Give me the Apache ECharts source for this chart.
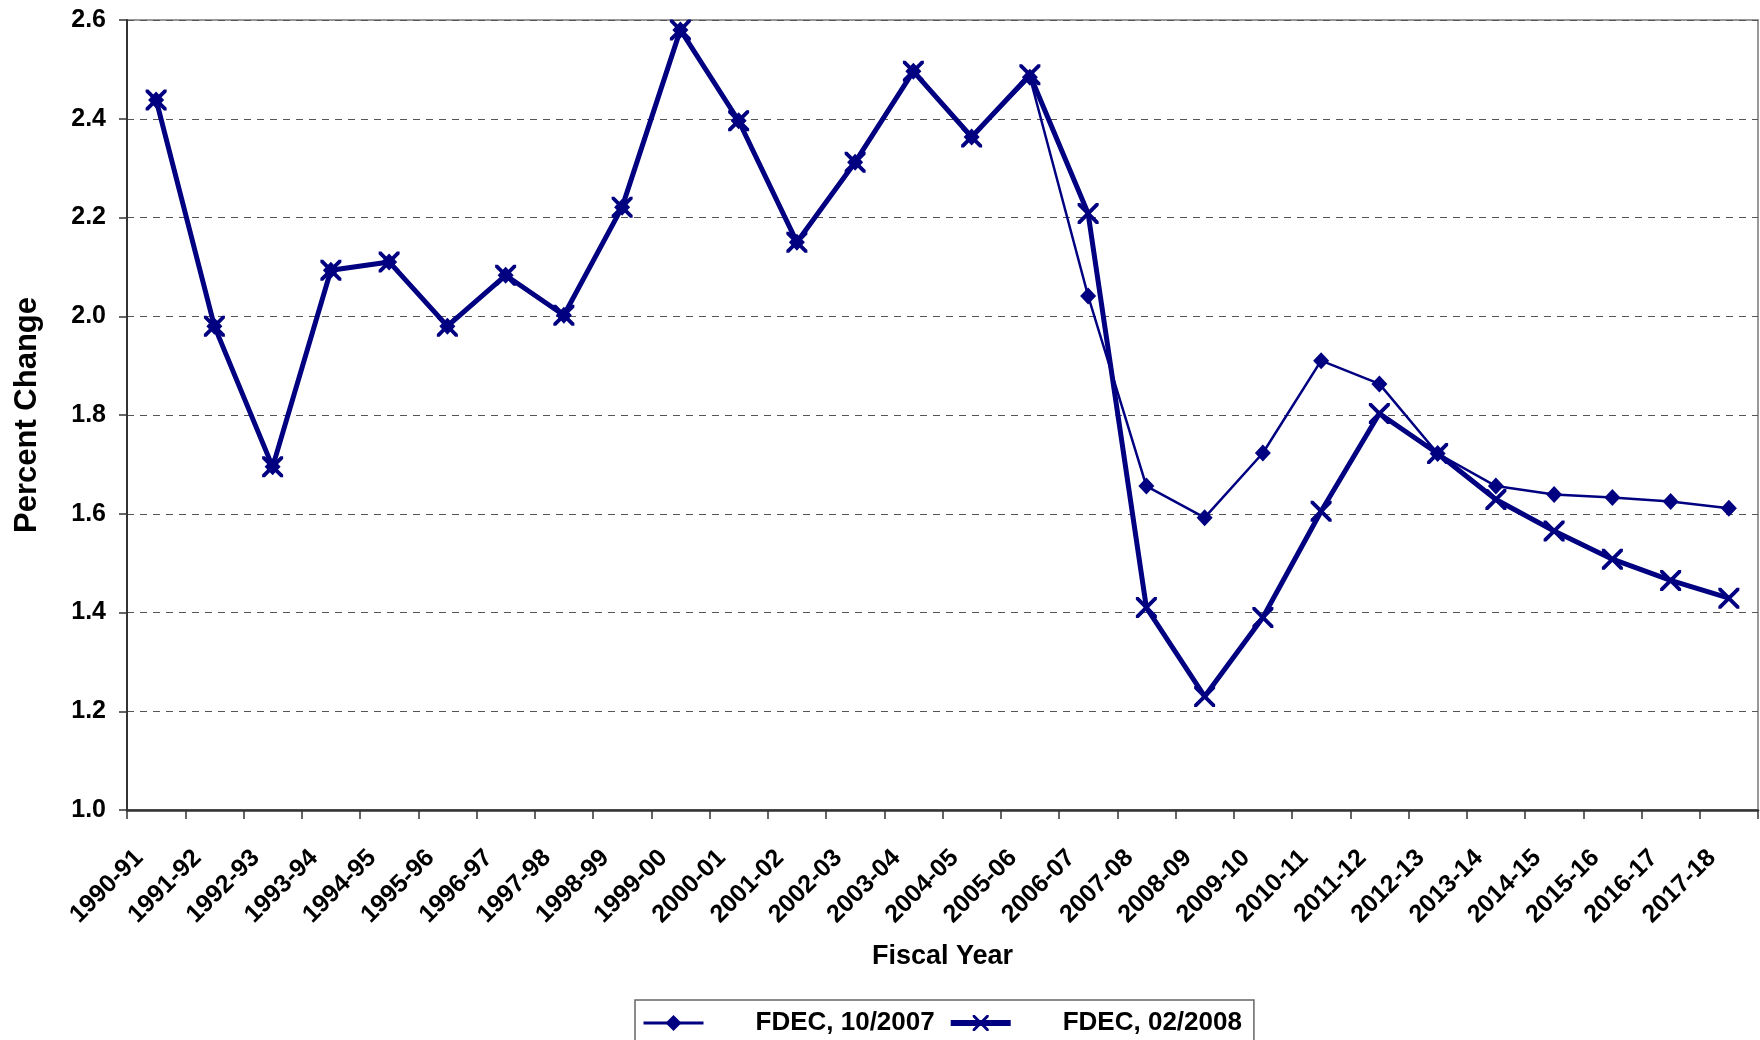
<!DOCTYPE html>
<html>
<head>
<meta charset="utf-8">
<script src="https://cdn.jsdelivr.net/npm/echarts@6/dist/echarts.min.js"></script>
<style>
  html, body { margin: 0; padding: 0; background: #fff; }
  #chart { width: 1760px; height: 1040px; }
</style>
</head>
<body>
<div id="chart"></div>
<script>
const categories = ['1990-91','1991-92','1992-93','1993-94','1994-95','1995-96','1996-97','1997-98','1998-99','1999-00',
  '2000-01','2001-02','2002-03','2003-04','2004-05','2005-06','2006-07','2007-08','2008-09','2009-10',
  '2010-11','2011-12','2012-13','2013-14','2014-15','2015-16','2016-17','2017-18'];
const fdec1007 = [2.438, 1.980, 1.695, 2.093, 2.110, 1.980, 2.083, 2.002, 2.221, 2.580,
  2.396, 2.150, 2.312, 2.496, 2.363, 2.484, 2.041, 1.656, 1.592, 1.723,
  1.910, 1.863, 1.722, 1.656, 1.639, 1.633, 1.625, 1.611];
const fdec0208 = [2.438, 1.980, 1.695, 2.093, 2.110, 1.980, 2.083, 2.002, 2.221, 2.580,
  2.396, 2.150, 2.312, 2.496, 2.363, 2.489, 2.208, 1.410, 1.230, 1.390,
  1.605, 1.803, 1.722, 1.629, 1.565, 1.508, 1.465, 1.429];
const seriesNames = ['FDEC, 10/2007', 'FDEC, 02/2008'];
const yMin = 1.0, yMax = 2.6, yStep = 0.2;

const NAVY = '#000080';
const FONT = "'Liberation Sans', Arial, sans-serif";
const xPath = 'path://M0,0 L2.6,0 L10,7.4 L17.4,0 L20,0 L20,2.6 L12.6,10 L20,17.4 L20,20 L17.4,20 L10,12.6 L2.6,20 L0,20 L0,17.4 L7.4,10 L0,2.6 Z';

const chart = echarts.init(document.getElementById('chart'), null, { renderer: 'canvas' });
chart.setOption({
  animation: false,
  backgroundColor: '#fff',
  textStyle: { fontFamily: FONT },
  grid: {
    left: 127, right: 2, top: 20, bottom: 230,
    show: true, borderColor: '#999', borderWidth: 2, backgroundColor: 'transparent'
  },
  legend: {
    left: 635, top: 1000,
    orient: 'horizontal',
    itemWidth: 60, itemHeight: 20, itemGap: 13,
    padding: [10, 12, 12, 7],
    borderColor: '#666', borderWidth: 1.5,
    textStyle: {
      fontFamily: FONT, fontWeight: 'bold', fontSize: 26, color: '#000',
      rich: { t: { fontFamily: FONT, fontWeight: 'bold', fontSize: 26, color: '#000', padding: [0, 0, 0, 47] } }
    },
    formatter: function (n) { return '{t|' + n + '}'; },
    data: [
      { name: seriesNames[0], lineStyle: { width: 3, color: NAVY } },
      { name: seriesNames[1], lineStyle: { width: 6, color: NAVY } }
    ]
  },
  xAxis: {
    type: 'category',
    data: categories,
    boundaryGap: true,
    name: 'Fiscal Year',
    nameLocation: 'middle',
    nameGap: 133,
    nameTextStyle: { fontFamily: FONT, fontWeight: 'bold', fontSize: 27, color: '#000' },
    axisLine: { show: true, lineStyle: { color: '#333', width: 2.5 } },
    axisTick: { show: true, inside: false, length: 9, lineStyle: { color: '#333', width: 1.5 } },
    axisLabel: {
      interval: 0, rotate: 45, margin: 27,
      padding: [0, 24, 0, 0],
      fontFamily: FONT, fontWeight: 'bold', fontSize: 25, color: '#000'
    },
    splitLine: { show: false }
  },
  yAxis: {
    type: 'value',
    min: yMin, max: yMax, interval: yStep,
    name: 'Percent Change',
    nameLocation: 'middle',
    nameGap: 84,
    nameRotate: 90,
    nameTextStyle: { fontFamily: FONT, fontWeight: 'bold', fontSize: 31, color: '#000' },
    axisLine: { show: true, lineStyle: { color: '#333', width: 2 } },
    axisTick: { show: true, inside: false, length: 8, lineStyle: { color: '#333', width: 1.5 } },
    axisLabel: {
      margin: 21,
      fontFamily: FONT, fontWeight: 'bold', fontSize: 25, color: '#000',
      formatter: function (v) { return v.toFixed(1); }
    },
    splitLine: { show: true, lineStyle: { color: '#555', width: 1.2, type: [7, 6] } }
  },
  series: [
    {
      name: seriesNames[0],
      type: 'line',
      data: fdec1007,
      symbol: 'diamond',
      symbolSize: [16, 17],
      showAllSymbol: true,
      lineStyle: { color: NAVY, width: 2.5 },
      itemStyle: { color: NAVY, borderWidth: 0 },
      z: 2
    },
    {
      name: seriesNames[1],
      type: 'line',
      data: fdec0208,
      symbol: xPath,
      symbolSize: 21,
      showAllSymbol: true,
      lineStyle: { color: NAVY, width: 5 },
      itemStyle: { color: NAVY, borderWidth: 0 },
      z: 3
    }
  ]
});
</script>
</body>
</html>
